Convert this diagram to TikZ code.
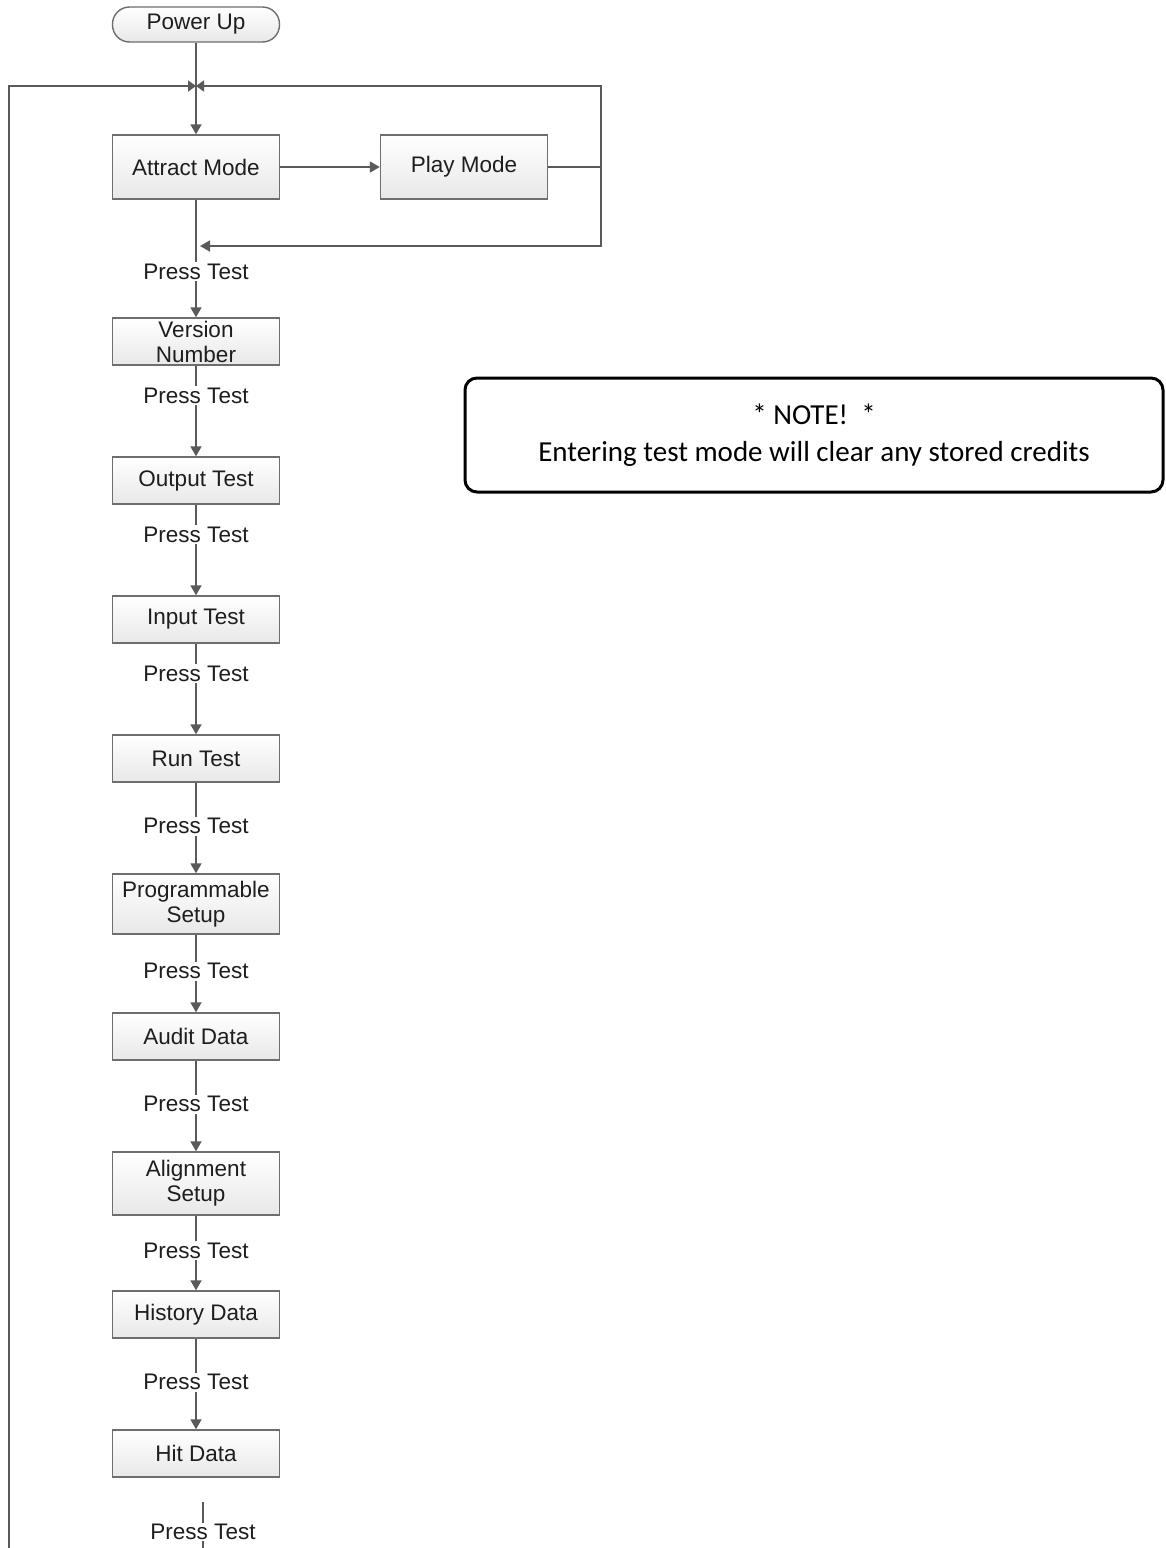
\documentclass[tikz,border=0pt]{standalone}
\usepackage{fontspec}
\setmainfont{Liberation Sans}
\newfontfamily\notefont{Carlito}
\usetikzlibrary{arrows.meta,shadings}
\definecolor{linegray}{HTML}{5A5A5A}
\definecolor{boxgray}{HTML}{6E6E6E}
\definecolor{txt}{HTML}{1E1E1E}
\tikzset{
  stepbox/.style={draw=boxgray, line width=1.4pt, top color=white, bottom color=black!9,
    minimum width=167pt, inner sep=0pt, align=center, text=txt,
    font=\fontsize{22.5}{25}\selectfont},
  pill/.style={stepbox, rounded corners=17pt, minimum height=35pt},
  conn/.style={draw=linegray, line width=1.8pt},
  arr/.style={conn, -{Triangle[length=10pt,width=11pt]}},
  meet/.style={conn, -{Triangle[length=8pt,width=11pt]}},
  lbl/.style={fill=white, inner sep=1.5pt, text=txt, font=\fontsize{22.5}{25}\selectfont},
  notebox/.style={draw=black, line width=3pt, rounded corners=12pt, align=center,
    minimum width=698pt, minimum height=114pt, font=\notefont\fontsize{29}{37}\selectfont}
}
\begin{document}
\begin{tikzpicture}[x=1pt, y=-1pt]
\useasboundingbox (0,0) rectangle (1166,1548);
\fill[white] (0,0) rectangle (1166,1548);

% states
\node[pill] (power) at (196,24.5) {Power Up};
\node[stepbox, minimum height=64pt] (attract) at (196,167) {Attract Mode};
\node[stepbox, minimum height=64pt] (play) at (464,167) {Play Mode};
\node[stepbox, minimum height=47pt] (version) at (196,341.5) {Version\\Number};
\node[stepbox, minimum height=47pt] (output) at (196,480.5) {Output Test};
\node[stepbox, minimum height=47pt] (input) at (196,619.5) {Input Test};
\node[stepbox, minimum height=47pt] (run) at (196,758.5) {Run Test};
\node[stepbox, minimum height=60pt] (prog) at (196,904) {Programmable\\Setup};
\node[stepbox, minimum height=47pt] (audit) at (196,1036.5) {Audit Data};
\node[stepbox, minimum height=63pt] (align) at (196,1183.5) {Alignment\\Setup};
\node[stepbox, minimum height=47pt] (history) at (196,1314.5) {History Data};
\node[stepbox, minimum height=47pt] (hit) at (196,1453.5) {Hit Data};

% warning note
\node[notebox] (note) at (814,435) {* NOTE!\ \ *\\Entering test mode will clear any stored credits};

% loop junction above Attract Mode
\coordinate (jn) at (196,86);
\coordinate (loopL) at (9,1548);
\coordinate (loopR) at (601,86);
\coordinate (retR) at (601,167);
\coordinate (ret) at (200,246);

\draw[conn] (power) -- (jn);
\draw[meet] (loopL) |- (jn);
\draw[meet] (play.east) -| (loopR) -- (jn);
\draw[arr] (retR) |- (ret);
\draw[arr] (jn) -- (attract);
\draw[arr] (attract) -- (play);

% test sequence
\draw[arr] (attract) -- node[lbl, pos=0.61] {Press Test} (version);
\draw[arr] (version) -- node[lbl, pos=0.33] {Press Test} (output);
\draw[arr] (output) -- node[lbl, pos=0.33] {Press Test} (input);
\draw[arr] (input) -- node[lbl, pos=0.33] {Press Test} (run);
\draw[arr] (run) -- node[lbl, pos=0.48] {Press Test} (prog);
\draw[arr] (prog) -- node[lbl, pos=0.47] {Press Test} (audit);
\draw[arr] (audit) -- node[lbl, pos=0.48] {Press Test} (align);
\draw[arr] (align) -- node[lbl, pos=0.47] {Press Test} (history);
\draw[arr] (history) -- node[lbl, pos=0.48] {Press Test} (hit);

% continuation below Hit Data
\coordinate (stubT) at (203,1502);
\coordinate (stubB) at (203,1548);
\draw[conn, line width=1.4pt] (stubT) -- node[lbl, pos=0.65] {Press Test} (stubB);
\end{tikzpicture}
\end{document}
